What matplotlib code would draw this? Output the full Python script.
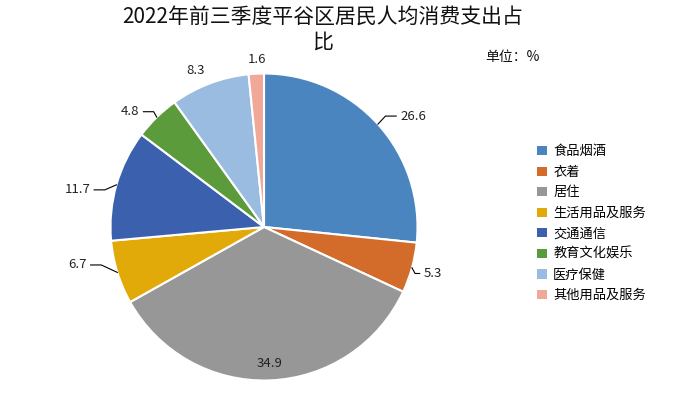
import numpy as np
import matplotlib
matplotlib.use('Agg')
import matplotlib.pyplot as plt

plt.rcParams['font.family'] = ['Noto Sans CJK SC', 'DejaVu Sans']

# 2022年前三季度平谷区居民人均消费支出占比 (%)
categories = ['食品烟酒', '衣着', '居住', '生活用品及服务', '交通通信', '教育文化娱乐', '医疗保健', '其他用品及服务']
values = [26.6, 5.3, 34.9, 6.7, 11.7, 4.8, 8.3, 1.6]
colors = ['#4A85C0', '#D36B2B', '#979797', '#E2AA08', '#3B61AE', '#5C9B3B', '#9BBCE1', '#F1A897']

# label placement: distance from centre (radii), angle nudge (deg), leader line or not
label_r = [1.21, 1.14, 0.89, 1.24, 1.24, 1.15, 1.11, 1.09]
label_dang = [-5.4, 0, 0, -5.7, 4.7, 4.9, 2.8, -0.4]
leader = [True, True, False, True, True, True, False, False]

fig = plt.figure(figsize=(6.79, 3.96), dpi=100)
W, H = 679, 396
cx, cy, R = 264, 227, 153.5
ax = fig.add_axes([(cx - R) / W, (H - cy - R) / H, 2 * R / W, 2 * R / H])

wedges, _ = ax.pie(values, colors=colors, startangle=90, counterclock=False,
                   wedgeprops=dict(edgecolor='white', linewidth=1.5))
ax.set_xlim(-1, 1)
ax.set_ylim(-1, 1)
ax.set_aspect('equal')
ax.axis('off')

renderer = fig.canvas.get_renderer()
for w, v, r, da, ld in zip(wedges, values, label_r, label_dang, leader):
    mid = np.deg2rad((w.theta1 + w.theta2) / 2)
    ang = mid + np.deg2rad(da)
    tx, ty = r * np.cos(ang), r * np.sin(ang)
    t = ax.text(tx, ty, f'{v}', ha='center', va='center', fontsize=9.5, color='#222222')
    if ld:
        # half text width in data units, plus a small gap
        hw = t.get_window_extent(renderer).width / 2 / R + 0.025
        side = 1 if np.cos(mid) >= 0 else -1
        x0, y0 = np.cos(mid), np.sin(mid)
        xe = tx - side * hw
        xm = xe - side * 0.07
        if side * (xm - x0) < 0.02:
            xm = x0 + side * 0.02
        ax.plot([x0, xm, xe], [y0, ty, ty], color='black', lw=0.8, clip_on=False)

fig.text(323 / W, 1 - 17 / H, '2022年前三季度平谷区居民人均消费支出占', ha='center', va='center',
         fontsize=15, color='#111111')
fig.text(323 / W, 1 - 42 / H, '比', ha='center', va='center', fontsize=15, color='#111111')
fig.text(485 / W, 1 - 57 / H, '单位：%', ha='left', va='center', fontsize=10, color='#111111')

leg = fig.legend(wedges, categories, loc='upper left', bbox_to_anchor=(532 / W, 1 - 140 / H),
                 frameon=False, fontsize=9.5, handlelength=0.7, handleheight=0.7,
                 handletextpad=0.5, labelspacing=0.57, borderaxespad=0)
for h in leg.legend_handles:
    h.set_edgecolor('none')

fig.savefig('out.png', dpi=100, facecolor='white')
